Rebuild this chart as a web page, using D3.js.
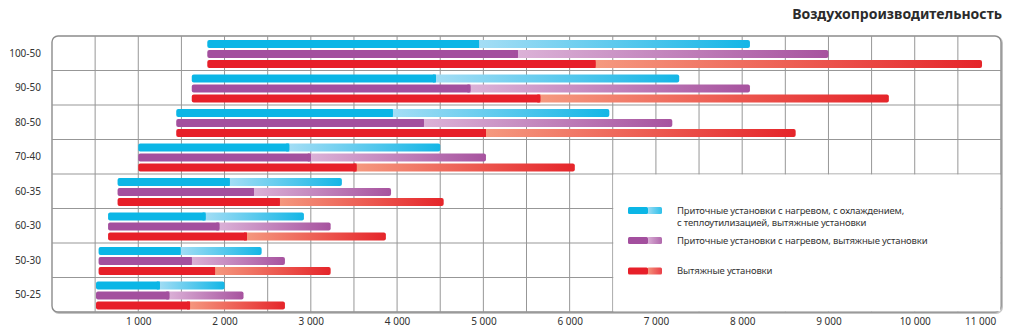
<!DOCTYPE html>
<html><head><meta charset="utf-8">
<script src="https://cdn.jsdelivr.net/npm/d3@7"></script>
<style>
html,body{margin:0;padding:0;background:#fff;}
svg{display:block;font-family:"Noto Sans",sans-serif;}
</style></head>
<body><svg id="c" width="1013" height="334"></svg>
<script>
const title = "Воздухопроизводительность";
const categories = ["100-50","90-50","80-50","70-40","60-35","60-30","50-30","50-25"];
const startVals   = [1800, 1620, 1440, 1000, 760, 650, 540, 510];
const cyanSplit   = [4950, 4450, 3950, 2750, 2060, 1780, 1490, 1250];
const cyanEnd     = [8090, 7270, 6460, 4500, 3360, 2920, 2430, 2000];
const purpleSplit = [5400, 4850, 4310, 3000, 2340, 1940, 1620, 1360];
const purpleEnd   = [9000, 8090, 7190, 5030, 3930, 3230, 2700, 2220];
const redSplit    = [6300, 5660, 5030, 3530, 2640, 2260, 1890, 1600];
const redEnd      = [10780, 9700, 8620, 6060, 4540, 3870, 3230, 2700];
const tickValues  = [1000,2000,3000,4000,5000,6000,7000,8000,9000,10000,11000];
const tickLabels  = ["1 000","2 000","3 000","4 000","5 000","6 000","7 000","8 000","9 000","10 000","11 000"];
const seriesNames = [
  ["Приточные установки с нагревом, с охлаждением,","с теплоутилизацией, вытяжные установки"],
  ["Приточные установки с нагревом, вытяжные установки"],
  ["Вытяжные установки"]
];

const colors = [
  {dark:"#0bb6e6", light:"#a6def5", end:"#14b6e6"},
  {dark:"#a34f9e", light:"#dcb3d8", end:"#a7539f"},
  {dark:"#e71f29", light:"#f59a80", end:"#e5252a"}
];
const splits = [cyanSplit, purpleSplit, redSplit];
const ends = [cyanEnd, purpleEnd, redEnd];

const svg = d3.select("#c");
const L = 52, R = 1001, T = 36, B = 312;
const x = d3.scaleLinear().domain([0, 11000]).range([L, R]);
const y = d3.scaleBand().domain(categories).range([T, B]).padding(0);
const ySub = d3.scaleBand().domain([0,1,2]).range([4, 32]).paddingInner(0.2).paddingOuter(0);

const defs = svg.append("defs");
colors.forEach((c,i)=>{
  const g = defs.append("linearGradient").attr("id","g"+i).attr("x1",0).attr("x2",1).attr("y1",0).attr("y2",0);
  g.append("stop").attr("offset","0%").attr("stop-color",c.light);
  g.append("stop").attr("offset","100%").attr("stop-color",c.end);
  const gl = defs.append("linearGradient").attr("id","gl"+i).attr("x1",0).attr("x2",1).attr("y1",0).attr("y2",0);
  gl.append("stop").attr("offset","0%").attr("stop-color",c.light);
  gl.append("stop").attr("offset","100%").attr("stop-color",c.dark).attr("stop-opacity",0.85);
});

// frame shadow + frame
svg.append("rect").attr("x",L+1).attr("y",T+1).attr("width",R-L).attr("height",B-T)
  .attr("rx",6).attr("fill","none").attr("stroke","#c4c4c4").attr("stroke-width",2);
svg.append("rect").attr("x",L).attr("y",T).attr("width",R-L).attr("height",B-T)
  .attr("rx",6).attr("fill","#fff").attr("stroke","#8c8c8c").attr("stroke-width",1.4);

// grid
const grid = svg.append("g").attr("stroke","#979797").attr("stroke-width",1);
const gx = d3.range(500, 11000, 500);
grid.selectAll("line.v").data(gx).join("line")
  .attr("x1",d=>x(d)).attr("x2",d=>x(d)).attr("y1",T).attr("y2",B);
grid.selectAll("line.h").data(categories.slice(1)).join("line")
  .attr("x1",L).attr("x2",R).attr("y1",d=>y(d)).attr("y2",d=>y(d));

// legend area (white box over grid)
const legX = x(6500), legY = y(categories[4]);
svg.append("rect").attr("x",legX+0.5).attr("y",legY+0.5).attr("width",R-legX-1.2).attr("height",B-legY-1.2).attr("fill","#fff");

// bars
const rows = svg.append("g").selectAll("g").data(categories).join("g")
  .attr("transform",d=>`translate(0,${y(d)})`);
rows.each(function(cat, ri){
  const g = d3.select(this);
  [0,1,2].forEach(si=>{
    const yy = ySub(si), h = ySub.bandwidth();
    const s = startVals[ri], m = splits[si][ri], e = ends[si][ri];
    g.append("rect").attr("x",x(m)-3).attr("y",yy).attr("width",x(e)-x(m)+3).attr("height",h)
      .attr("rx",2).attr("fill",`url(#g${si})`);
    g.append("rect").attr("x",x(s)).attr("y",yy).attr("width",x(m)-x(s)).attr("height",h)
      .attr("rx",2).attr("fill",colors[si].dark);
    g.append("rect").attr("x",x(m)-3).attr("y",yy).attr("width",3).attr("height",h)
      .attr("fill",colors[si].dark);
  });
});

// y labels
svg.append("g").selectAll("text").data(categories).join("text")
  .attr("x",41).attr("y",d=>y(d)+y.bandwidth()/2).attr("dy","0.35em")
  .attr("text-anchor","end").attr("font-size",10).attr("fill","#333").text(d=>d);

// x axis labels
const axis = d3.axisBottom(x).tickValues(tickValues).tickSize(0).tickPadding(0)
  .tickFormat((d,i)=>tickLabels[i]);
const ax = svg.append("g").attr("transform",`translate(0,${B+6})`).call(axis);
ax.select(".domain").remove();
ax.selectAll("text").attr("font-size",10).attr("fill","#333").attr("font-family","\"Noto Sans\",sans-serif")
  .attr("dy","0.71em");
ax.selectAll(".tick").filter(d=>d===11000).select("text").attr("dx",-21);

// title
svg.append("text").attr("x",1002).attr("y",19).attr("text-anchor","end")
  .attr("font-size",14).attr("font-weight","bold").attr("fill","#2b2b2b").text(title);

// legend
const legSw = [210.5, 240.5, 271];
const legTxt = [[210.5,222.5],[240.5],[271]];
const lg = svg.append("g");
seriesNames.forEach((lines,i)=>{
  const c = colors[i];
  lg.append("rect").attr("x",647).attr("y",legSw[i]-3.5).attr("width",15).attr("height",7).attr("rx",1.5).attr("fill",`url(#gl${i})`);
  lg.append("rect").attr("x",628).attr("y",legSw[i]-3.5).attr("width",20).attr("height",7).attr("rx",1.5).attr("fill",c.dark);
  lines.forEach((t,j)=>{
    lg.append("text").attr("x",677).attr("y",legTxt[i][j]).attr("dy","0.35em")
      .attr("font-size",9.5).attr("fill","#333").attr("letter-spacing",-0.15).text(t);
  });
});
</script></body></html>
